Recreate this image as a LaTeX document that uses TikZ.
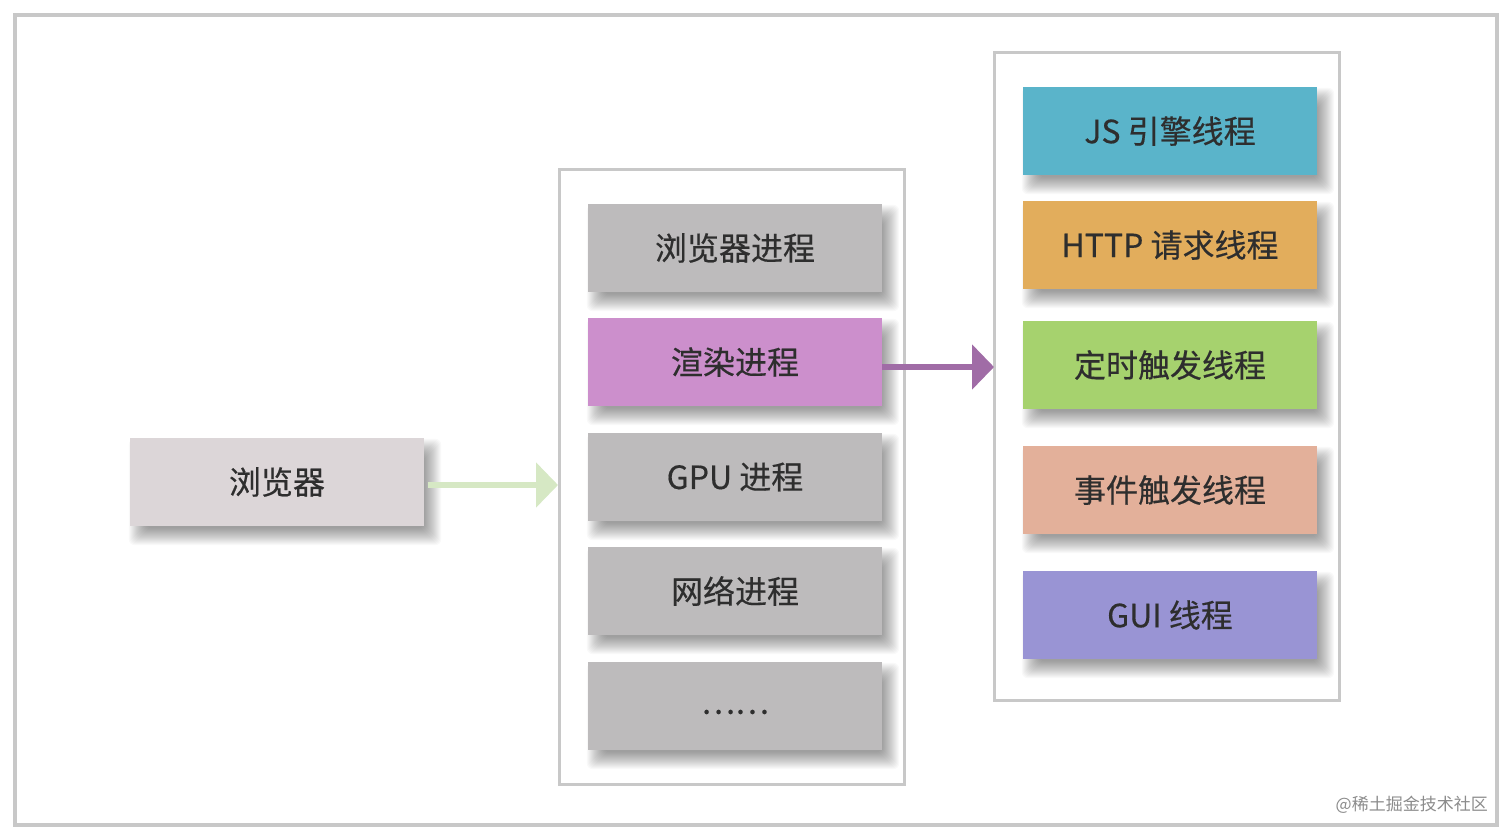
\documentclass[tikz,border=0pt]{standalone}
\usepackage{fontspec}
\setmainfont{Noto Sans CJK SC}
\newfontfamily\boxfont{Noto Sans CJK SC}[FakeBold=0.4]
\usetikzlibrary{arrows.meta,backgrounds}
\definecolor{frame}{HTML}{C8C8C8}
\definecolor{txt}{HTML}{2E2E2E}
\definecolor{gproc}{HTML}{BDBBBC}
\definecolor{render}{HTML}{CC8FCC}
\definecolor{brow}{HTML}{DCD6D8}
\definecolor{js}{HTML}{5AB4CA}
\definecolor{http}{HTML}{E2AD5C}
\definecolor{timer}{HTML}{A6D26E}
\definecolor{event}{HTML}{E3B09A}
\definecolor{gui}{HTML}{9994D4}
\definecolor{garrow}{HTML}{D6E8C4}
\definecolor{parrow}{HTML}{A06CA6}
\begin{document}
\begin{tikzpicture}[x=1pt,y=-1pt,
  boxst/.style={minimum width=294pt,minimum height=88pt,inner sep=0pt,
    font=\boxfont\fontsize{32}{36}\selectfont,text=txt},
  shadowlayer/.style={fill=black,fill opacity=0.024,rounded corners=6pt},
  contst/.style={draw=frame,line width=3pt},
  arr/.style={line width=6pt,-{Triangle[length=22pt,width=44pt]}}]
\useasboundingbox (0,0) rectangle (1512,839);
\draw[frame,line width=4pt] (15,15) rectangle (1497,825);
\draw[contst] (559,169) rectangle (904,784);
\draw[contst] (994,52) rectangle (1339,700);
% browser
\node[boxst,fill=brow] (b) at (277,482) {浏览器};
% processes
\node[boxst,fill=gproc] (p1) at (735,248) {浏览器进程};
\node[boxst,fill=render] (p2) at (735,362) {渲染进程};
\node[boxst,fill=gproc] (p3) at (735,477) {GPU 进程};
\node[boxst,fill=gproc] (p4) at (735,591) {网络进程};
\node[boxst,fill=gproc] (p5) at (735,706) {\raisebox{-16pt}{……}};
% threads
\node[boxst,fill=js] (t1) at (1170,131) {JS 引擎线程};
\node[boxst,fill=http] (t2) at (1170,245) {HTTP 请求线程};
\node[boxst,fill=timer] (t3) at (1170,365) {定时触发线程};
\node[boxst,fill=event] (t4) at (1170,490) {事件触发线程};
\node[boxst,fill=gui] (t5) at (1170,615) {GUI 线程};
% soft shadows
\begin{scope}[on background layer]
\fill[white] (0,0) rectangle (1512,839);
\foreach \n in {b,p1,p2,p3,p4,p5,t1,t2,t3,t4,t5}{
  \foreach \i in {0,...,17}{
    \fill[shadowlayer] ([xshift={(\i-1)*1pt},yshift={(-1-\i)*1pt}]\n.north west)
      rectangle ([xshift={(17-\i)*1pt},yshift={(\i-19)*1pt}]\n.south east);
  }
}
\end{scope}
% connectors
\coordinate (gend) at (558,485);
\coordinate (pend) at (994,367);
\draw[arr,garrow] (b.east|-gend) ++(4,0) -- (gend);
\draw[arr,parrow] (p2.east|-pend) -- (pend);
% watermark
\node[anchor=east,font=\fontsize{17}{20}\selectfont,text=black!45,inner sep=0pt] (wm) at (1488,805) {@稀土掘金技术社区};
\end{tikzpicture}
\end{document}
